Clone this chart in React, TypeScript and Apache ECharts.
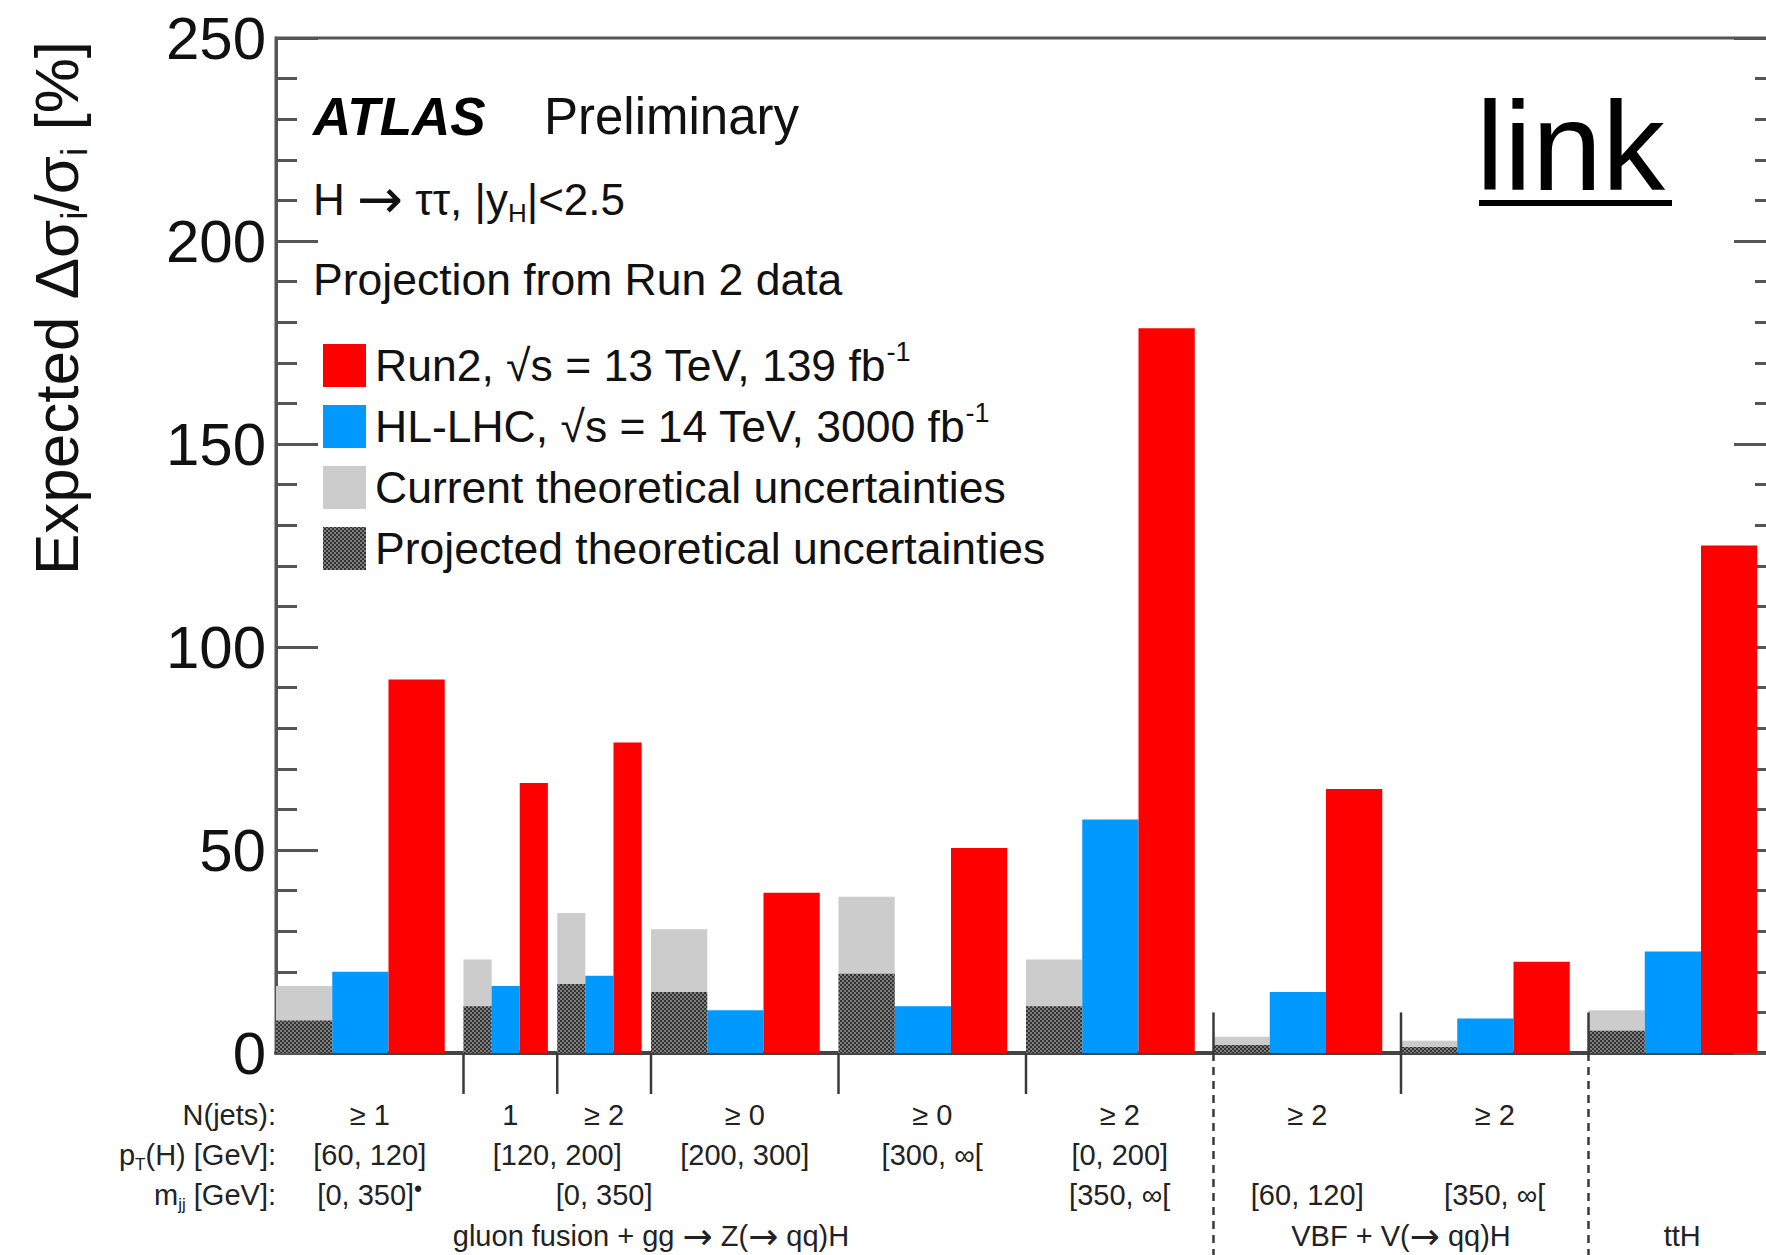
import React, { useEffect, useRef } from 'react';
import * as echarts from 'echarts';

// ---------- data ----------
const binEdges = [0, 1, 1.5, 2, 3, 4, 5, 6, 7, 8];
const run2Values = [92, 66.5, 76.5, 39.5, 50.5, 178.5, 65, 22.5, 125];
const hllhcValues = [20, 16.5, 19, 10.5, 11.5, 57.5, 15, 8.5, 25];
const currentTheoryValues = [16.5, 23, 34.5, 30.5, 38.5, 23, 4, 3, 10.5];
const projectedTheoryValues = [8, 11.5, 17, 15, 19.5, 11.5, 2, 1.5, 5.5];

const yMin = 0;
const yMax = 250;
const yInterval = 50;

const rowTitles = ['N(jets):', 'p{sub|T}(H) [GeV]:', 'm{sub|jj} [GeV]:'];
const nJetsLabels: [number, string][] = [
  [0.5, '≥ 1'], [1.25, '1'], [1.75, '≥ 2'], [2.5, '≥ 0'], [3.5, '≥ 0'],
  [4.5, '≥ 2'], [5.5, '≥ 2'], [6.5, '≥ 2'],
];
const ptLabels: [number, string][] = [
  [0.5, '[60, 120]'], [1.5, '[120, 200]'], [2.5, '[200, 300]'], [3.5, '[300, ∞['], [4.5, '[0, 200]'],
];
const mjjLabels: [number, string][] = [
  [0.5, '[0, 350]{bul|•}'], [1.75, '[0, 350]'], [4.5, '[350, ∞['], [5.5, '[60, 120]'], [6.5, '[350, ∞['],
];
const groupLabels: [number, string][] = [
  [2.0, 'gluon fusion + gg {arr|→} Z({arr|→} qq)H'], [6.0, 'VBF + V({arr|→} qq)H'], [7.5, 'ttH'],
];
// [position, top value, dashed(1) or not(0)]
const separators: [number, number, number][] = [
  [1, 0, 0], [1.5, 0, 0], [2, 0, 0], [3, 0, 0], [4, 0, 0], [5, 10, 1], [6, 10, 0], [7, 10, 1],
];
const legendLabels = [
  'Run2, √s = 13 TeV, 139 fb{sup|-1}',
  'HL-LHC, √s = 14 TeV, 3000 fb{sup|-1}',
  'Current theoretical uncertainties',
  'Projected theoretical uncertainties',
];

// ---------- styles ----------
const FONT = "'Liberation Sans', Arial, Helvetica, sans-serif";
const ARROW_FONT = "'DejaVu Sans', sans-serif";
const RED = '#ff0000';
const BLUE = '#0099ff';
const LIGHT = '#cccccc';
const hatchSvg =
  '<svg xmlns="http://www.w3.org/2000/svg" width="4" height="4">' +
  '<rect width="4" height="4" fill="#7e7e7e"/>' +
  '<rect width="2" height="2" fill="#333333"/>' +
  '<rect x="2" y="2" width="2" height="2" fill="#333333"/></svg>';
const HATCH: any = {
  image: 'data:image/svg+xml;charset=utf-8,' + encodeURIComponent(hatchSvg),
  repeat: 'repeat',
  imageWidth: 4,
  imageHeight: 4,
};

function barSeries(name: string, values: number[], f0: number, f1: number, fill: any, z: number) {
  return {
    type: 'custom',
    name,
    z,
    silent: true,
    data: values.map((v, i) => [i, v]),
    renderItem: (params: any, api: any) => {
      const i = api.value(0);
      const v = api.value(1);
      const lo = binEdges[i];
      const hi = binEdges[i + 1];
      const x0 = lo + f0 * (hi - lo);
      const x1 = lo + f1 * (hi - lo);
      const p0 = api.coord([x0, 0]);
      const p1 = api.coord([x1, v]);
      return {
        type: 'rect',
        shape: { x: p0[0], y: p1[1], width: p1[0] - p0[0], height: p0[1] - p1[1] },
        style: { fill, stroke: null },
      };
    },
  };
}

function buildOption(): any {
  const tickStyle = { color: '#555', width: 3 };
  const yAxisBase = {
    type: 'value',
    min: yMin,
    max: yMax,
    interval: yInterval,
    axisLine: { show: true, lineStyle: tickStyle },
    axisTick: { show: true, inside: true, length: 42, lineStyle: tickStyle },
    minorTick: { show: true, splitNumber: 5, length: 21, lineStyle: tickStyle },
    splitLine: { show: false },
    minorSplitLine: { show: false },
  };
  return {
    animation: false,
    backgroundColor: '#ffffff',
    textStyle: { fontFamily: FONT },
    grid: {
      left: 276, top: 38, right: -10, bottom: 202,
      outerBoundsMode: 'none', containLabel: false,
      show: true, borderColor: '#555', borderWidth: 3,
    },
    xAxis: {
      type: 'value',
      min: binEdges[0],
      max: binEdges[binEdges.length - 1],
      axisLine: { show: true, onZero: true, lineStyle: { color: '#444', width: 4 } },
      axisTick: { show: false },
      axisLabel: { show: false },
      splitLine: { show: false },
    },
    yAxis: [
      {
        ...yAxisBase,
        position: 'left',
        axisLabel: { show: true, fontSize: 60, color: '#111', fontFamily: FONT, margin: 10 },
      },
      {
        ...yAxisBase,
        position: 'right',
        axisLabel: { show: false },
      },
    ],
    series: [
      barSeries('Current theoretical uncertainties', currentTheoryValues, 0, 0.3, LIGHT, 2),
      barSeries('Projected theoretical uncertainties', projectedTheoryValues, 0, 0.3, HATCH, 3),
      barSeries('HL-LHC', hllhcValues, 0.3, 0.6, BLUE, 2),
      barSeries('Run2', run2Values, 0.6, 0.9, RED, 2),
      {
        type: 'custom',
        name: 'separators',
        z: 10,
        clip: false,
        silent: true,
        data: separators,
        renderItem: (params: any, api: any) => {
          const x = api.value(0);
          const top = api.value(1);
          const dashed = api.value(2);
          const pTop = api.coord([x, top]);
          const pZero = api.coord([x, 0]);
          const st = { stroke: '#3a3a3a', lineWidth: 2.5 };
          const children: any[] = [];
          if (dashed) {
            children.push({ type: 'line', shape: { x1: pTop[0], y1: pTop[1], x2: pZero[0], y2: pZero[1] }, style: st });
            children.push({
              type: 'line',
              shape: { x1: pZero[0], y1: pZero[1], x2: pZero[0], y2: pZero[1] + 220 },
              style: { ...st, lineDash: [8, 6] },
            });
          } else {
            children.push({ type: 'line', shape: { x1: pTop[0], y1: pTop[1], x2: pZero[0], y2: pZero[1] + 41 }, style: st });
          }
          return { type: 'group', children };
        },
      },
    ],
  };
}

function txt(x: number, y: number, text: string, size: number, extra: any = {}, color = '#111') {
  const L = Math.round(size * 1.2);
  const s = Math.round(size * 0.6);
  const b = Math.round(size * 0.8);
  return {
    type: 'text',
    x,
    y,
    silent: true,
    z: 100,
    style: {
      text,
      fontFamily: FONT,
      fontSize: size,
      fill: color,
      align: 'left',
      verticalAlign: 'middle',
      lineHeight: L,
      rich: {
        sub: { fontFamily: FONT, fontSize: s, lineHeight: s, padding: [L - s, 0, 0, 0], fill: color },
        sup: { fontFamily: FONT, fontSize: s, lineHeight: s, padding: [0, 0, L - s, 0], fill: color },
        bul: { fontFamily: FONT, fontSize: b, lineHeight: b, padding: [0, 0, L - b, 0], fill: color },
        arr: { fontFamily: ARROW_FONT, fontSize: Math.round(size * 1.25), lineHeight: L, fill: color },
      },
      ...extra,
    },
  };
}

function buildGraphics(chart: any): any[] {
  const toPx = (x: number, y: number) => chart.convertToPixel({ gridIndex: 0 }, [x, y]);
  const g: any[] = [];
  // header texts
  g.push(txt(313, 116, 'ATLAS', 53, { fontWeight: 'bold', fontStyle: 'italic' }, '#000'));
  g.push(txt(544, 116, 'Preliminary', 51));
  g.push(txt(313, 199, 'H {arr|→} ττ, |y{sub|H}|<2.5', 44));
  g.push(txt(313, 279, 'Projection from Run 2 data', 44.5));
  // legend
  const legendFills = [RED, BLUE, LIGHT, HATCH];
  const legendRows = [365, 426, 487, 548];
  legendLabels.forEach((label, i) => {
    g.push({
      type: 'rect',
      silent: true,
      z: 100,
      shape: { x: 323, y: legendRows[i] - 21, width: 43, height: 43 },
      style: { fill: legendFills[i] },
    });
    g.push(txt(375, legendRows[i], label, 44.5));
  });
  // link
  g.push({
    type: 'text',
    x: 1476,
    y: 146,
    silent: true,
    z: 100,
    style: { text: 'link', fontFamily: FONT, fontSize: 126, fill: '#000', align: 'left', verticalAlign: 'middle' },
  });
  g.push({ type: 'rect', silent: true, z: 100, shape: { x: 1479, y: 200, width: 193, height: 6 }, style: { fill: '#000' } });
  // y-axis title
  g.push({
    ...txt(56, 308, 'Expected Δσ{sub|i}/σ{sub|i} [%]', 62, { align: 'center' }),
    rotation: Math.PI / 2,
  });
  // bottom rows
  const rowY = [1115, 1155, 1195, 1236];
  const leftPx = toPx(0, 0)[0];
  rowTitles.forEach((t, i) => g.push(txt(leftPx, rowY[i], t, 29, { align: 'right' }, '#222')));
  const rows: [number, string][][] = [nJetsLabels, ptLabels, mjjLabels, groupLabels];
  rows.forEach((row, r) => {
    row.forEach(([x, t]) => {
      const p = toPx(x, 0);
      g.push(txt(p[0], rowY[r], t, 29, { align: 'center' }, '#222'));
    });
  });
  return g;
}

export default function App() {
  const ref = useRef<HTMLDivElement>(null);
  useEffect(() => {
    if (!ref.current) return;
    const chart = echarts.init(ref.current, null, { renderer: 'svg' });
    chart.setOption(buildOption());
    chart.setOption({ graphic: buildGraphics(chart) });
    return () => chart.dispose();
  }, []);
  return (
    <div
      ref={ref}
      style={{ position: 'fixed', left: 0, top: 0, width: 1766, height: 1255, background: '#fff' }}
    />
  );
}
